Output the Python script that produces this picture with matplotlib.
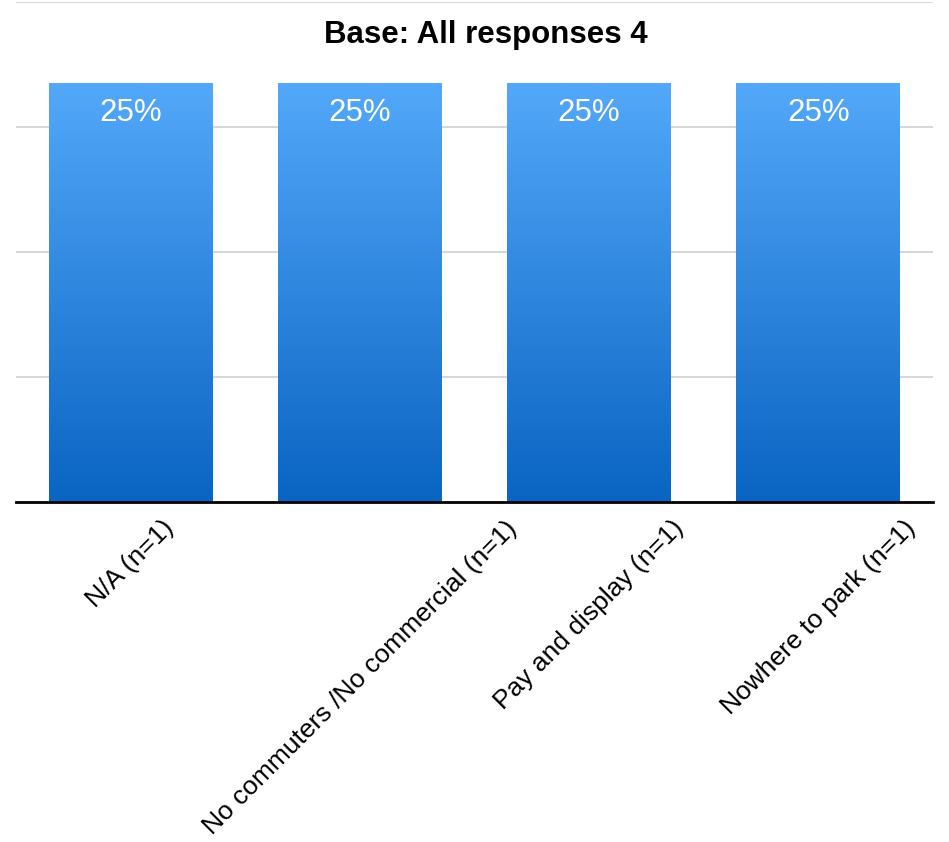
import numpy as np
import matplotlib
matplotlib.use('Agg')
import matplotlib.pyplot as plt
from matplotlib.colors import LinearSegmentedColormap

plt.rcParams['font.family'] = ['Liberation Sans', 'DejaVu Sans']

categories = ['N/A (n=1)', 'No commuters /No commercial (n=1)',
              'Pay and display (n=1)', 'Nowhere to park (n=1)']
values = [25, 25, 25, 25]
bar_labels = ['25%', '25%', '25%', '25%']
title = 'Base: All responses 4'

fig = plt.figure(figsize=(9.49, 8.42), dpi=100)
ax = fig.add_axes([16 / 949, 1 - 502 / 842, 917 / 949, 500 / 842])

x = np.arange(len(categories))
width = 0.715
bars = ax.bar(x, values, width, color='none', zorder=2)

# vertical gradient fill for each bar
cmap = LinearSegmentedColormap.from_list('blues', ['#0A64C2', '#53A8F9'])
grad = np.linspace(0, 1, 256).reshape(-1, 1)
for b in bars:
    x0, y0 = b.get_x(), b.get_y()
    w, h = b.get_width(), b.get_height()
    im = ax.imshow(grad, cmap=cmap, origin='lower', aspect='auto',
                   extent=[x0, x0 + w, y0, y0 + h], zorder=2)
    im.set_clip_path(b)

for xi, v, lab in zip(x, values, bar_labels):
    ax.text(xi, v - 1.75, lab, ha='center', va='center', color='white',
            fontsize=22.5, zorder=3)

ax.set_xlim(-0.5, len(categories) - 0.5)
ax.set_ylim(0, 29.85)
ax.set_yticks([7.46, 14.92, 22.38, 29.85])
ax.yaxis.grid(True, color='#d0d0d0', linewidth=1.2)
ax.set_axisbelow(True)
ax.tick_params(axis='y', left=False, labelleft=False)
ax.tick_params(axis='x', length=0, pad=10)
ax.set_xticks(x)
ax.set_xticklabels(categories, rotation=45, ha='center', va='top', fontsize=19)

for s in ['top', 'right', 'left']:
    ax.spines[s].set_visible(False)
ax.spines['bottom'].set_linewidth(2)
ax.spines['bottom'].set_color('black')

fig.text(486 / 949, 1 - 43 / 842, title, ha='center', va='baseline',
         fontsize=22.5, fontweight='bold')

fig.savefig('out.png', dpi=100)
